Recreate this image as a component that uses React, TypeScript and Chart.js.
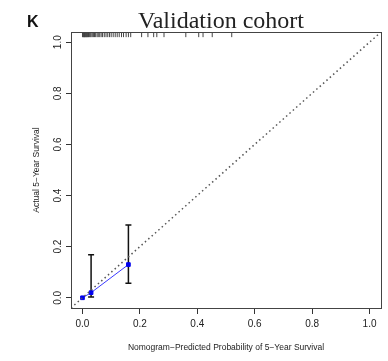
import React, { useEffect, useRef } from 'react';
import { Chart, registerables } from 'chart.js';

Chart.register(...registerables);

// Calibration points (nomogram-predicted vs actual)
const predicted = [0.0, 0.03, 0.16];
const observed = [0.0, 0.02, 0.13];
const lowerCI: (number | null)[] = [null, 0.003, 0.057];
const upperCI: (number | null)[] = [null, 0.168, 0.285];

// Distribution of predicted probabilities (rug along the top)
const rugValues = [
  0.0, 0.002, 0.004, 0.005, 0.007, 0.008, 0.01, 0.012, 0.013, 0.015, 0.017, 0.019,
  0.021, 0.024, 0.027, 0.03, 0.034, 0.038, 0.042, 0.046, 0.051, 0.055, 0.06, 0.065,
  0.07, 0.076, 0.082, 0.088, 0.094, 0.1, 0.107, 0.114, 0.121, 0.128, 0.136, 0.143,
  0.152, 0.16, 0.168, 0.206, 0.228, 0.248, 0.259, 0.284, 0.36, 0.405, 0.42, 0.452, 0.52,
];
const rugLevel = 1.03;

// Ideal (45 degree) reference line
const idealLine = [-0.04, 1.04];

const tickValues = [0, 0.2, 0.4, 0.6, 0.8, 1.0];
const axisMin = -0.04;
const axisMax = 1.04;

const titleText = 'Validation cohort';
const panelLetter = 'K';
const xTitle = 'Nomogram\u2212Predicted Probability of 5\u2212Year Survival';
const yTitle = 'Actual 5\u2212Year Survival';

const SANS = '"Liberation Sans", Arial, Helvetica, sans-serif';
const SERIF = '"Liberation Serif", "Times New Roman", serif';

export default function App() {
  const ref = useRef<HTMLCanvasElement | null>(null);

  useEffect(() => {
    const canvas = ref.current;
    if (!canvas) return;

    const decorPlugin = {
      id: 'decor',
      beforeDatasetsDraw(chart: any) {
        const { ctx } = chart;
        const xs = chart.scales.x;
        const ys = chart.scales.y;
        ctx.save();
        ctx.strokeStyle = '#111';
        ctx.lineWidth = 1.5;
        for (let i = 0; i < predicted.length; i++) {
          const lo = lowerCI[i];
          const hi = upperCI[i];
          if (lo == null || hi == null) continue;
          const px = xs.getPixelForValue(predicted[i]);
          const py1 = ys.getPixelForValue(lo);
          const py2 = ys.getPixelForValue(hi);
          ctx.beginPath();
          ctx.moveTo(px, py1);
          ctx.lineTo(px, py2);
          ctx.moveTo(px - 3, py1);
          ctx.lineTo(px + 3, py1);
          ctx.moveTo(px - 3, py2);
          ctx.lineTo(px + 3, py2);
          ctx.stroke();
        }
        ctx.restore();
      },
      afterDraw(chart: any) {
        const { ctx, chartArea } = chart;
        const ys = chart.scales.y;
        ctx.save();
        // box
        ctx.strokeStyle = '#444';
        ctx.lineWidth = 1;
        ctx.strokeRect(
          Math.round(chartArea.left) + 0.5,
          Math.round(chartArea.top) + 0.5,
          Math.round(chartArea.right - chartArea.left),
          Math.round(chartArea.bottom - chartArea.top)
        );
        // rotated y tick labels (R style)
        ctx.fillStyle = '#222';
        ctx.font = `10px ${SANS}`;
        ctx.textAlign = 'center';
        ctx.textBaseline = 'middle';
        for (const t of ys.ticks) {
          const py = ys.getPixelForValue(t.value);
          ctx.save();
          ctx.translate(58, py);
          ctx.rotate(-Math.PI / 2);
          ctx.fillText(Number(t.value).toFixed(1), 0, 0);
          ctx.restore();
        }
        // title
        ctx.fillStyle = '#222';
        ctx.font = `24px ${SERIF}`;
        ctx.textAlign = 'center';
        ctx.textBaseline = 'alphabetic';
        ctx.fillText(titleText, (chartArea.left + chartArea.right) / 2 - 5, 28);
        // panel letter
        ctx.fillStyle = '#111';
        ctx.font = `bold 16px ${SANS}`;
        ctx.textAlign = 'left';
        ctx.fillText(panelLetter, 27, 27);
        ctx.restore();
      },
    };

    const chart = new Chart(canvas, {
      type: 'scatter',
      data: {
        datasets: [
          {
            type: 'line',
            data: idealLine.map((v) => ({ x: v, y: v })),
            borderColor: '#555',
            borderWidth: 1.5,
            borderDash: [1.5, 3],
            pointRadius: 0,
            fill: false,
          },
          {
            type: 'line',
            data: predicted.map((v, i) => ({ x: v, y: observed[i] })),
            borderColor: '#3a3aff',
            borderWidth: 1,
            pointStyle: 'rect',
            pointRadius: 2.6,
            pointBackgroundColor: '#0000ee',
            pointBorderColor: '#0000ee',
            pointBorderWidth: 1,
            fill: false,
          },
          {
            type: 'scatter',
            data: rugValues.map((v) => ({ x: v, y: rugLevel })),
            pointStyle: 'line',
            rotation: 90,
            pointRadius: 2.6,
            borderColor: '#444',
            borderWidth: 1,
            showLine: false,
          } as any,
        ],
      },
      options: {
        animation: false,
        responsive: false,
        events: [],
        layout: { padding: { left: 0, right: 7, top: 32, bottom: 0 } },
        plugins: {
          legend: { display: false },
          tooltip: { enabled: false },
          title: { display: false },
        },
        scales: {
          x: {
            type: 'linear',
            min: axisMin,
            max: axisMax,
            afterBuildTicks: (s: any) => {
              s.ticks = tickValues.map((v) => ({ value: v }));
            },
            afterFit: (s: any) => {
              s.height = 53;
            },
            ticks: {
              color: '#222',
              font: { family: SANS, size: 10 },
              padding: 4,
              maxRotation: 0,
              callback: (v: any) => Number(v).toFixed(1),
            },
            grid: {
              drawOnChartArea: false,
              drawTicks: true,
              tickLength: 6,
              color: '#333',
            },
            border: { display: true, color: '#444' },
            title: {
              display: true,
              text: xTitle,
              color: '#222',
              font: { family: SANS, size: 8.5 },
              padding: { top: 0, bottom: 8 },
            },
          },
          y: {
            type: 'linear',
            min: axisMin,
            max: axisMax,
            afterBuildTicks: (s: any) => {
              s.ticks = tickValues.map((v) => ({ value: v }));
            },
            afterFit: (s: any) => {
              s.width = 71;
            },
            ticks: {
              display: false,
            },
            grid: {
              drawOnChartArea: false,
              drawTicks: true,
              tickLength: 5,
              color: '#333',
            },
            border: { display: true, color: '#444' },
            title: {
              display: true,
              text: yTitle,
              color: '#222',
              font: { family: SANS, size: 8.5 },
              padding: { top: 32, bottom: 0 },
            },
          },
        },
      },
      plugins: [decorPlugin],
    } as any);

    return () => chart.destroy();
  }, []);

  return (
    <div style={{ position: 'fixed', left: 0, top: 0, width: 388, height: 361, background: '#fff' }}>
      <canvas ref={ref} width={388} height={361} style={{ display: 'block' }} />
    </div>
  );
}
